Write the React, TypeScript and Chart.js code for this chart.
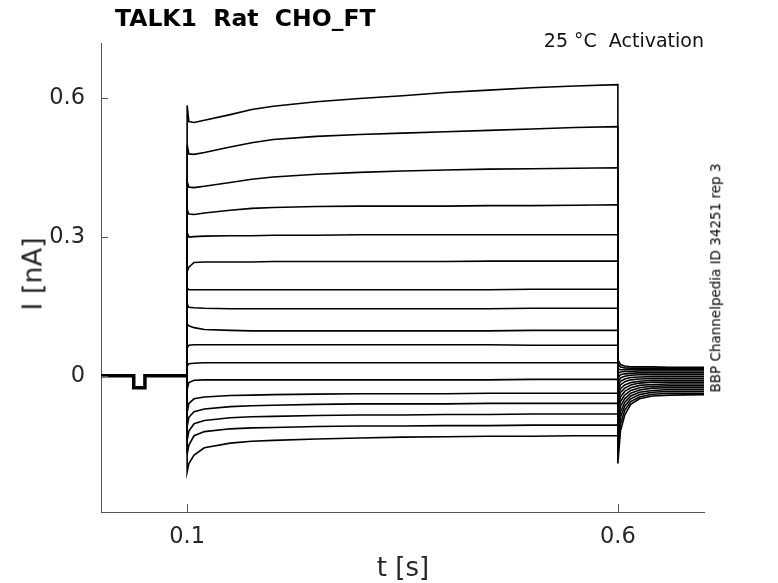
import { useRef, useEffect } from 'react'
import { Chart, registerables } from 'chart.js'
Chart.register(...registerables)

// holding period (same for every sweep), t in s, I in nA
const holdTimes = [0, 0.038, 0.038, 0.051, 0.051, 0.1]
const holdCurrent = [0, 0, -0.026, -0.026, 0, 0]

// test pulse, one row per sweep (top to bottom)
const stepTimes = [0.1, 0.102, 0.108, 0.12, 0.15, 0.175, 0.2, 0.25, 0.3, 0.35, 0.4, 0.45, 0.5, 0.55, 0.6]
const stepCurrents = [
  [0.585, 0.55, 0.548, 0.553, 0.565, 0.576, 0.583, 0.593, 0.6, 0.606, 0.613, 0.618, 0.623, 0.627, 0.63],
  [0.5, 0.48, 0.479, 0.483, 0.495, 0.504, 0.511, 0.518, 0.522, 0.525, 0.528, 0.531, 0.534, 0.537, 0.539],
  [0.42, 0.408, 0.407, 0.41, 0.418, 0.425, 0.43, 0.436, 0.44, 0.443, 0.445, 0.447, 0.448, 0.449, 0.45],
  [0.36, 0.35, 0.349, 0.352, 0.358, 0.362, 0.364, 0.366, 0.367, 0.367, 0.367, 0.368, 0.368, 0.369, 0.37],
  [0.31, 0.3, 0.301, 0.302, 0.303, 0.303, 0.304, 0.304, 0.305, 0.305, 0.305, 0.305, 0.305, 0.305, 0.305],
  [0.225, 0.235, 0.245, 0.246, 0.246, 0.246, 0.247, 0.247, 0.247, 0.247, 0.247, 0.248, 0.248, 0.248, 0.248],
  [0.19, 0.186, 0.186, 0.186, 0.186, 0.186, 0.186, 0.186, 0.186, 0.186, 0.186, 0.186, 0.187, 0.187, 0.187],
  [0.155, 0.148, 0.147, 0.146, 0.145, 0.145, 0.145, 0.145, 0.145, 0.145, 0.145, 0.145, 0.146, 0.146, 0.146],
  [0.112, 0.108, 0.104, 0.1, 0.098, 0.097, 0.097, 0.097, 0.097, 0.097, 0.097, 0.097, 0.098, 0.098, 0.098],
  [0.06, 0.066, 0.067, 0.067, 0.067, 0.067, 0.067, 0.067, 0.067, 0.067, 0.067, 0.067, 0.066, 0.066, 0.066],
  [0.02, 0.026, 0.027, 0.028, 0.028, 0.028, 0.028, 0.028, 0.028, 0.028, 0.028, 0.028, 0.028, 0.028, 0.028],
  [-0.03, -0.015, -0.01, -0.009, -0.009, -0.009, -0.009, -0.009, -0.009, -0.009, -0.009, -0.009, -0.008, -0.008, -0.008],
  [-0.08, -0.06, -0.05, -0.046, -0.043, -0.042, -0.041, -0.04, -0.039, -0.039, -0.039, -0.038, -0.038, -0.038, -0.038],
  [-0.11, -0.09, -0.078, -0.072, -0.067, -0.065, -0.064, -0.062, -0.061, -0.061, -0.061, -0.06, -0.06, -0.06, -0.06],
  [-0.14, -0.12, -0.104, -0.097, -0.091, -0.089, -0.088, -0.086, -0.085, -0.085, -0.084, -0.084, -0.083, -0.083, -0.083],
  [-0.17, -0.15, -0.13, -0.121, -0.115, -0.113, -0.112, -0.11, -0.109, -0.109, -0.108, -0.108, -0.107, -0.107, -0.107],
  [-0.208, -0.19, -0.172, -0.156, -0.146, -0.142, -0.14, -0.137, -0.135, -0.133, -0.132, -0.131, -0.131, -0.13, -0.13],
]

// tail after the pulse
const tailTimes = [0.6, 0.603, 0.608, 0.615, 0.625, 0.64, 0.66, 0.7]
const tailCurrents = [
  [-0.19, -0.12, -0.085, -0.062, -0.05, -0.044, -0.042, -0.041],
  [-0.165, -0.105, -0.075, -0.056, -0.046, -0.04, -0.038, -0.038],
  [-0.14, -0.09, -0.066, -0.05, -0.041, -0.036, -0.034, -0.034],
  [-0.12, -0.078, -0.058, -0.044, -0.036, -0.032, -0.03, -0.03],
  [-0.1, -0.066, -0.05, -0.038, -0.031, -0.027, -0.026, -0.026],
  [-0.085, -0.056, -0.042, -0.032, -0.026, -0.023, -0.022, -0.022],
  [-0.07, -0.046, -0.034, -0.026, -0.021, -0.019, -0.018, -0.018],
  [-0.055, -0.036, -0.027, -0.02, -0.016, -0.014, -0.014, -0.014],
  [-0.045, -0.028, -0.02, -0.015, -0.012, -0.01, -0.01, -0.01],
  [-0.035, -0.02, -0.013, -0.009, -0.007, -0.006, -0.006, -0.006],
  [-0.025, -0.012, -0.007, -0.004, -0.003, -0.002, -0.002, -0.002],
  [-0.015, -0.005, -0.001, 0.001, 0.002, 0.002, 0.002, 0.002],
  [-0.005, 0.002, 0.004, 0.005, 0.006, 0.006, 0.006, 0.006],
  [0.005, 0.008, 0.009, 0.009, 0.01, 0.01, 0.01, 0.01],
  [0.015, 0.013, 0.013, 0.013, 0.013, 0.013, 0.013, 0.013],
  [0.025, 0.019, 0.017, 0.016, 0.016, 0.016, 0.016, 0.016],
  [0.035, 0.024, 0.021, 0.019, 0.019, 0.019, 0.018, 0.018],
]

const xTicks = [0.1, 0.6]
const yTicks = [0, 0.3, 0.6]

const FONT = 'DejaVu Sans'
const AXIS = '#555555'

// little inward tick marks, matlab style
const inwardTicks = {
  id: 'inwardTicks',
  afterDraw(chart: any) {
    const { ctx, chartArea, scales } = chart
    ctx.save()
    ctx.strokeStyle = AXIS
    ctx.lineWidth = 1
    ctx.beginPath()
    xTicks.forEach(v => {
      const px = Math.round(scales.x.getPixelForValue(v)) + 0.5
      ctx.moveTo(px, chartArea.bottom)
      ctx.lineTo(px, chartArea.bottom - 8)
    })
    yTicks.forEach(v => {
      const py = Math.round(scales.y.getPixelForValue(v)) + 0.5
      ctx.moveTo(chartArea.left, py)
      ctx.lineTo(chartArea.left + 7, py)
    })
    ctx.stroke()
    ctx.restore()
  },
}

export default function App() {
  const canvasRef = useRef<HTMLCanvasElement>(null)
  const chartRef = useRef<Chart | null>(null)

  useEffect(() => {
    if (!canvasRef.current) return
    chartRef.current?.destroy()

    const hold = holdTimes.map((t, i) => ({ x: t, y: holdCurrent[i] }))
    const sweeps = stepCurrents.map((row, k) => ({
      data: [
        ...hold,
        ...stepTimes.map((t, i) => ({ x: t, y: row[i] })),
        ...tailTimes.map((t, i) => ({ x: t, y: tailCurrents[k][i] })),
      ],
      borderColor: '#000',
      borderWidth: 1.6,
      pointRadius: 0,
      tension: 0,
      fill: false,
    }))

    chartRef.current = new Chart(canvasRef.current, {
      type: 'line',
      data: {
        datasets: [
          ...sweeps,
          { data: hold, borderColor: '#000', borderWidth: 3.5, pointRadius: 0, tension: 0, fill: false },
        ],
      },
      options: {
        animation: false,
        responsive: true,
        maintainAspectRatio: false,
        layout: { padding: { top: 43, right: 74, left: 0, bottom: 0 } },
        plugins: { legend: { display: false }, tooltip: { enabled: false } },
        scales: {
          x: {
            type: 'linear', min: 0, max: 0.7,
            afterBuildTicks: (s: any) => { s.ticks = xTicks.map(v => ({ value: v })) },
            afterFit: (s: any) => { s.height = 71 },
            ticks: { color: '#262626', font: { family: FONT, size: 22.5 }, padding: 4, callback: (v: any) => String(v) },
            grid: { display: false },
            border: { display: true, color: AXIS, width: 1 },
          },
          y: {
            type: 'linear', min: -0.295, max: 0.72,
            afterBuildTicks: (s: any) => { s.ticks = yTicks.map(v => ({ value: v })) },
            afterFit: (s: any) => { s.width = 101 },
            ticks: { color: '#262626', font: { family: FONT, size: 22.5 }, padding: 8, callback: (v: any) => String(v) },
            grid: { display: false },
            border: { display: true, color: AXIS, width: 1 },
          },
        },
      },
      plugins: [inwardTicks],
    })
    return () => chartRef.current?.destroy()
  }, [])

  return (
    <div style={{ position: 'fixed', left: 0, top: 0, width: 778, height: 583, background: '#fff', fontFamily: FONT, color: '#000' }}>
      <div style={{ position: 'absolute', inset: 0 }}><canvas ref={canvasRef} /></div>

      <div style={{ position: 'absolute', left: 115, top: 7, fontSize: 23.5, fontWeight: 700, lineHeight: 1, whiteSpace: 'pre' }}>
        TALK1  Rat  CHO_FT
      </div>
      <div style={{ position: 'absolute', right: 74, top: 31, fontSize: 19, lineHeight: 1, whiteSpace: 'pre', color: '#111' }}>
        25 °C  Activation
      </div>
      <div style={{ position: 'absolute', left: 403, top: 554, transform: 'translateX(-50%)', fontSize: 26, lineHeight: 1, whiteSpace: 'pre', color: '#262626' }}>
        t [s]
      </div>
      <div style={{ position: 'absolute', left: 32, top: 274, transform: 'translate(-50%, -50%) rotate(-90deg)', fontSize: 27, lineHeight: 1, whiteSpace: 'pre', color: '#262626' }}>
        I [nA]
      </div>
      <div style={{ position: 'absolute', left: 716, top: 278, transform: 'translate(-50%, -50%) rotate(-90deg)', fontSize: 13.5, lineHeight: 1, whiteSpace: 'pre' }}>
        BBP Channelpedia ID 34251 rep 3
      </div>
    </div>
  )
}
